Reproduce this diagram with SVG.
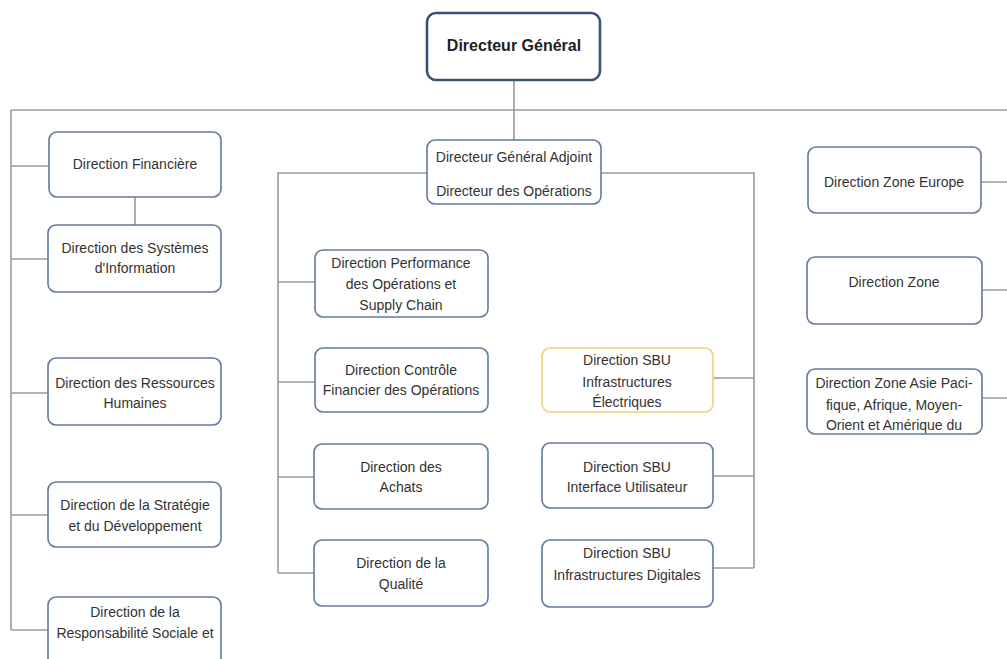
<svg xmlns="http://www.w3.org/2000/svg" width="1007" height="659" viewBox="0 0 1007 659">
<style>
.box{fill:#fff;stroke:#6478a0;stroke-width:1.6}
.top{fill:#fff;stroke:#3d5078;stroke-width:2.6}
.hl{fill:#fff;stroke:#ecd27a;stroke-width:1.6}
.ln{fill:none;stroke:#9a9a9a;stroke-width:1.6}
text{font-family:"Liberation Sans",Arial,sans-serif;font-size:14px;fill:#333;text-anchor:middle}
.b{font-weight:bold;font-size:16px;fill:#222}
</style>
<rect width="1007" height="659" fill="#fff"/>
<g id="connectors">
<path class="ln" d="M514 80V140"/>
<path class="ln" d="M11 110H1007"/>
<path class="ln" d="M11 110V630"/>
<path class="ln" d="M11 166H49M11 259H48M11 393H48M11 515H48M11 630H48"/>
<path class="ln" d="M135 197V225"/>
<path class="ln" d="M427 173H278V573M601 173H754V568"/>
<path class="ln" d="M278 282H315M278 382H315M278 477H314M278 573H314"/>
<path class="ln" d="M713 378H754M713 476H754M713 568H754"/>
<path class="ln" d="M981 182H1007M982 290H1007M982 398H1007"/>
</g>
<g id="dg"><rect class="top" x="427" y="13" width="173" height="67" rx="9"/><text class="b" x="514" y="51">Directeur Général</text></g>
<g id="dga"><rect class="box" x="427" y="140" width="174" height="64" rx="8"/><text x="514" y="162">Directeur Général Adjoint</text><text x="514" y="196">Directeur des Opérations</text></g>
<g id="fin"><rect class="box" x="49" y="132" width="172" height="65" rx="8"/><text x="135" y="169">Direction Financière</text></g>
<g id="si"><rect class="box" x="48" y="225" width="173" height="67" rx="8"/><text x="135" y="253">Direction des Systèmes</text><text x="135" y="273">d'Information</text></g>
<g id="rh"><rect class="box" x="48" y="358" width="173" height="67" rx="8"/><text x="135" y="388">Direction des Ressources</text><text x="135" y="408">Humaines</text></g>
<g id="strat"><rect class="box" x="48" y="482" width="173" height="65" rx="8"/><text x="135" y="510">Direction de la Stratégie</text><text x="135" y="531">et du Développement</text></g>
<g id="rse"><rect class="box" x="48" y="597" width="173" height="80" rx="8"/><text x="135" y="617">Direction de la</text><text x="135" y="638">Responsabilité Sociale et</text></g>
<g id="perf"><rect class="box" x="315" y="250" width="173" height="67" rx="8"/><text x="401" y="268">Direction Performance</text><text x="401" y="289">des Opérations et</text><text x="401" y="310">Supply Chain</text></g>
<g id="cfo"><rect class="box" x="315" y="348" width="173" height="64" rx="8"/><text x="401" y="375">Direction Contrôle</text><text x="401" y="395">Financier des Opérations</text></g>
<g id="achats"><rect class="box" x="314" y="444" width="174" height="65" rx="8"/><text x="401" y="472">Direction des</text><text x="401" y="492">Achats</text></g>
<g id="qual"><rect class="box" x="314" y="540" width="174" height="66" rx="8"/><text x="401" y="568">Direction de la</text><text x="401" y="589">Qualité</text></g>
<g id="sbu-elec"><rect class="hl" x="542" y="348" width="171" height="64" rx="8"/><text x="627" y="365">Direction SBU</text><text x="627" y="387">Infrastructures</text><text x="627" y="407">Électriques</text></g>
<g id="sbu-ui"><rect class="box" x="542" y="443" width="171" height="65" rx="8"/><text x="627" y="472">Direction SBU</text><text x="627" y="492">Interface Utilisateur</text></g>
<g id="sbu-dig"><rect class="box" x="542" y="540" width="171" height="67" rx="8"/><text x="627" y="558">Direction SBU</text><text x="627" y="580">Infrastructures Digitales</text></g>
<g id="europe"><rect class="box" x="808" y="147" width="173" height="66" rx="8"/><text x="894" y="187">Direction Zone Europe</text></g>
<g id="zone"><rect class="box" x="807" y="257" width="175" height="67" rx="8"/><text x="894" y="287">Direction Zone</text></g>
<g id="asie"><rect class="box" x="807" y="369" width="175" height="65" rx="8"/><text x="894" y="388">Direction Zone Asie Paci-</text><text x="894" y="410">fique, Afrique, Moyen-</text><text x="894" y="430">Orient et Amérique du</text></g>
</svg>
